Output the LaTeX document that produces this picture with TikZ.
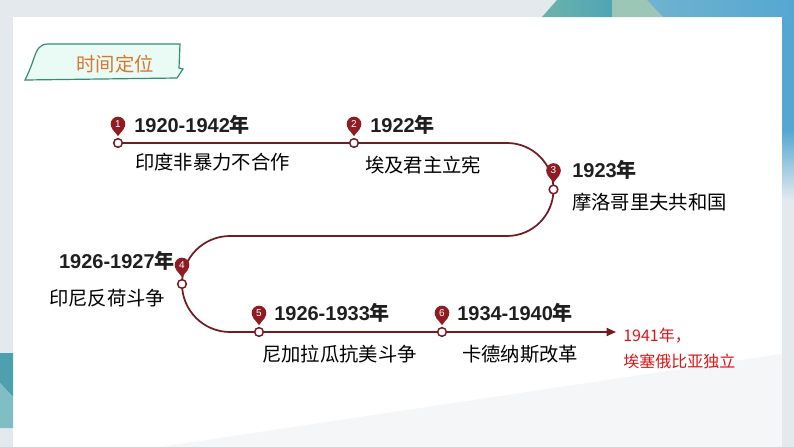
\documentclass[tikz,border=0pt]{standalone}
\usepackage{fontspec}
\setmainfont{Liberation Sans}
\newfontfamily\cjk{Noto Sans CJK SC}
\usetikzlibrary{calc,arrows.meta}
\definecolor{bggrey}{HTML}{E4E9EE}
\definecolor{linecol}{HTML}{701C20}
\definecolor{pincol}{HTML}{8E1C22}
\definecolor{titleor}{HTML}{D8772E}
\definecolor{badgefill}{HTML}{EAFBF6}
\definecolor{badgeline}{HTML}{2F8F72}
\definecolor{redtxt}{HTML}{E01414}
\definecolor{tealA}{HTML}{6DB3AA}
\definecolor{tealB}{HTML}{4FA4B6}
\definecolor{sage}{HTML}{9CC6B5}
\definecolor{blueA}{HTML}{6FB3CF}
\definecolor{blueB}{HTML}{55A7D2}
\definecolor{lteal}{HTML}{4DA0AE}
\definecolor{lteal2}{HTML}{7FBFC4}
\definecolor{floorgrey}{HTML}{F4F6F8}
\begin{document}
\begin{tikzpicture}[x=0.75pt,y=-0.75pt,
  dot/.style={circle,draw=linecol,fill=white,line width=1.1pt,inner sep=0pt,minimum size=6.5pt},
  pinhead/.style={circle,fill=pincol,text=white,inner sep=0pt,minimum size=11pt,font=\fontsize{7.5}{7.5}\selectfont},
  pintip/.style={fill=pincol},
  year/.style={inner sep=0pt,font=\fontsize{15}{15}\selectfont\bfseries,text=black!88},
  desc/.style={inner sep=0pt,font=\cjk\fontsize{14.5}{14.5}\selectfont,text=black},
  redlabel/.style={inner sep=0pt,anchor=west,font=\cjk\fontsize{12}{12}\selectfont,text=redtxt},
  tl/.style={draw=linecol,line width=1.3pt}]
\useasboundingbox (0,0) rectangle (794,447);
% background
\fill[bggrey] (0,0) rectangle (794,447);
\fill[white] (13,17) rectangle (782,447);
\fill[floorgrey] (160,447) -- (794,352) -- (794,447) -- cycle;
\fill[bggrey] (782,352) rectangle (794,447);
% top decorations
\shade[left color=tealA,right color=tealB] (542,17) -- (557,0) -- (612,0) -- (612,17) -- cycle;
\fill[sage] (612,0) -- (647,0) -- (663,17) -- (612,17) -- cycle;
\shade[left color=blueA,right color=blueB] (647,0) -- (794,0) -- (794,17) -- (663,17) -- cycle;
\fill[blueB] (782,17) rectangle (794,130);
\shade[top color=blueB,bottom color=bggrey] (782,130) rectangle (794,200);
% left bottom block
\fill[lteal] (0,353) -- (13,353) -- (13,397) -- (0,383) -- cycle;
\fill[lteal2] (0,383) -- (13,397) -- (13,428) -- (0,428) -- cycle;
% title badge
\filldraw[fill=badgefill,draw=badgeline,line width=0.9pt]
  (25,80) .. controls (29,72) and (32,64) .. (34,58) .. controls (37,49) and (40,44) .. (48,44) -- (180,44)
  -- (179,68) -- (183,69) -- (177,78) -- cycle;
\node[inner sep=0pt,font=\cjk\fontsize{14.5}{14.5}\selectfont,text=titleor] (title) at (115,64) {时间定位};
% timeline
\coordinate (p1) at (118,143);
\coordinate (p2) at (354,143);
\coordinate (p3) at (553.5,189.5);
\coordinate (p4) at (182,284);
\coordinate (p5) at (259,332);
\coordinate (p6) at (442,332);
\coordinate (pe) at (616,332);
\draw[tl] (p1) -- (p2) -- (507,143) .. controls (532.7,143) and (553.5,163.8) .. (p3)
  .. controls (553.5,215.2) and (532.7,236) .. (507,236) -- (230,236)
  .. controls (203.5,236) and (182,257.5) .. (p4)
  .. controls (182,310.5) and (203.5,332) .. (230,332) -- (p5) -- (p6);
\draw[tl,-{Triangle[length=7pt,width=6pt]}] (p6) -- (pe);
\foreach \i in {1,...,6}{
  \node[dot] (d\i) at (p\i) {};
  \node[pinhead] (h\i) at ($(p\i)+(0,-19)$) {\i};
  \fill[pintip] (h\i.-145) -- ($(h\i.south)+(0,4.5)$) -- (h\i.-35) -- cycle;
}
% labels
\node[year,anchor=west] (y1) at (134,125) {1920-1942{\cjk 年}};
\node[desc,anchor=west] (t1) at (135,162) {印度非暴力不合作};
\node[year,anchor=west] (y2) at (370,125) {1922{\cjk 年}};
\node[desc,anchor=west] (t2) at (365,165) {埃及君主立宪};
\node[year,anchor=west] (y3) at (572,170) {1923{\cjk 年}};
\node[desc,anchor=west] (t3) at (572,202) {摩洛哥里夫共和国};
\node[year,anchor=east] (y4) at (175,261) {1926-1927{\cjk 年}};
\node[desc,anchor=west] (t4) at (49,298) {印尼反荷斗争};
\node[year,anchor=west] (y5) at (274,313) {1926-1933{\cjk 年}};
\node[desc,anchor=west] (t5) at (262,354) {尼加拉瓜抗美斗争};
\node[year,anchor=west] (y6) at (457,313) {1934-1940{\cjk 年}};
\node[desc,anchor=west] (t6) at (462,354) {卡德纳斯改革};
\node[redlabel] (r1) at (623,336) {1941年，};
\node[redlabel] (r2) at (623,361) {埃塞俄比亚独立};
\end{tikzpicture}
\end{document}
